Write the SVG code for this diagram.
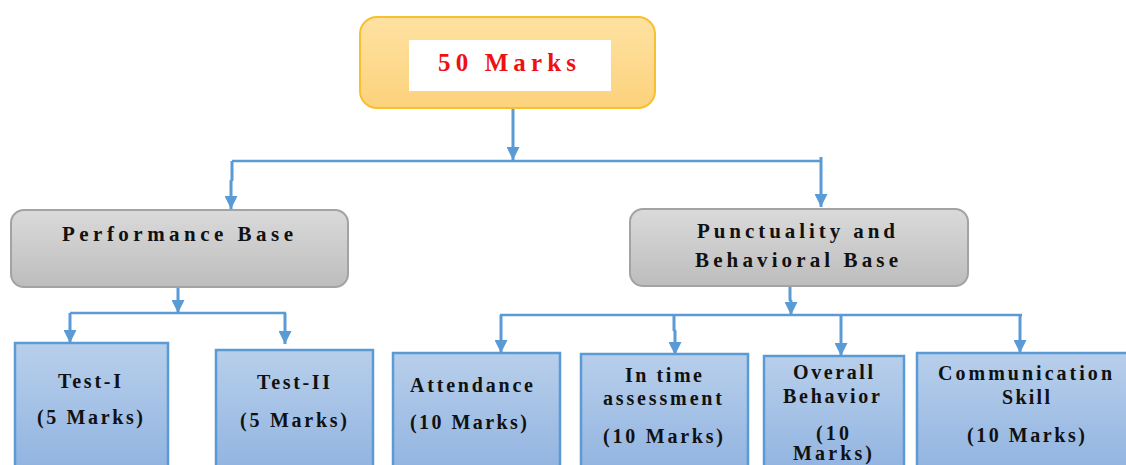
<svg xmlns="http://www.w3.org/2000/svg" width="1126" height="465" viewBox="0 0 1126 465">
<defs>
<linearGradient id="gOrange" x1="0" y1="0" x2="0" y2="1"><stop offset="0" stop-color="#fee2a2"/><stop offset="1" stop-color="#fcd27c"/></linearGradient>
<linearGradient id="gGray" x1="0" y1="0" x2="0" y2="1"><stop offset="0" stop-color="#dadada"/><stop offset="1" stop-color="#bdbdbd"/></linearGradient>
<linearGradient id="gBlue" x1="0" y1="0" x2="0" y2="1"><stop offset="0" stop-color="#b8cfeb"/><stop offset="1" stop-color="#90b3e0"/></linearGradient>
<marker id="arr" viewBox="0 0 10 10" refX="10" refY="5" markerWidth="13" markerHeight="13" markerUnits="userSpaceOnUse" orient="auto"><path d="M0,0 L10,5 L0,10 z" fill="#5b9bd5"/></marker>
<style>
.t{font-family:"Liberation Serif","Times New Roman",serif;font-weight:bold;fill:#111;text-anchor:start}
.l2{font-size:21px}
.l3{font-size:20px}
.top{font-size:25px;fill:#ee1111}
.gray{fill:url(#gGray);stroke:#a3a3a3;stroke-width:2}
.blue{fill:url(#gBlue);stroke:#5b9bd5;stroke-width:2.5}
.h{fill:none;stroke:#5b9bd5;stroke-width:2.5}
.a{fill:none;stroke:#5b9bd5;stroke-width:3;marker-end:url(#arr)}
</style>
</defs>
<g id="connectors">
<line class="a" x1="513" y1="108" x2="513" y2="160"/>
<line class="h" x1="232" y1="161" x2="821" y2="161"/>
<polyline class="a" points="232,161 232,180 231,181 231,209"/>
<line class="a" x1="821" y1="157" x2="821" y2="207"/>
<line class="a" x1="178" y1="287" x2="178" y2="313"/>
<line class="h" x1="70" y1="313" x2="286" y2="313"/>
<line class="a" x1="70" y1="313" x2="70" y2="343"/>
<line class="a" x1="285" y1="313" x2="285" y2="344"/>
<polyline class="a" points="790,286 790,300 791,301 791,315"/>
<line class="h" x1="500" y1="315" x2="1022" y2="315"/>
<line class="a" x1="501" y1="315" x2="501" y2="353"/>
<polyline class="a" points="674,315 674,330 675,331 675,355"/>
<line class="a" x1="841" y1="315" x2="841" y2="356"/>
<line class="a" x1="1020" y1="315" x2="1020" y2="353"/>
</g>
<g id="n-top">
<rect x="360" y="17" width="295" height="91" rx="17" fill="url(#gOrange)" stroke="#f8bf2f" stroke-width="2"/>
<rect x="409" y="40" width="202" height="51" fill="#ffffff"/>
<text class="t top" x="438" y="71" textLength="138" lengthAdjust="spacing">50 Marks</text>
</g>
<g id="n-performance">
<rect class="gray" x="11" y="210" width="337" height="77" rx="13"/>
<text class="t l2" x="62" y="241" textLength="231" lengthAdjust="spacing">Performance Base</text>
</g>
<g id="n-punctuality">
<rect class="gray" x="630" y="209" width="338" height="77" rx="13"/>
<text class="t l2" x="697" y="238" textLength="198" lengthAdjust="spacing">Punctuality and</text>
<text class="t l2" x="695" y="267" textLength="203" lengthAdjust="spacing">Behavioral Base</text>
</g>
<g id="n-test1">
<rect class="blue" x="15" y="343" width="153" height="130"/>
<text class="t l3" x="58" y="388" textLength="63" lengthAdjust="spacing">Test-I</text>
<text class="t l3" x="37" y="424" textLength="106" lengthAdjust="spacing">(5 Marks)</text>
</g>
<g id="n-test2">
<rect class="blue" x="216" y="350" width="157" height="125"/>
<text class="t l3" x="257" y="389" textLength="73" lengthAdjust="spacing">Test-II</text>
<text class="t l3" x="240" y="427" textLength="107" lengthAdjust="spacing">(5 Marks)</text>
</g>
<g id="n-attendance">
<rect class="blue" x="393" y="353" width="167" height="122"/>
<text class="t l3" x="410" y="392" textLength="123" lengthAdjust="spacing">Attendance</text>
<text class="t l3" x="410" y="429" textLength="117" lengthAdjust="spacing">(10 Marks)</text>
</g>
<g id="n-intime">
<rect class="blue" x="581" y="354" width="167" height="121"/>
<text class="t l3" x="625" y="382" textLength="77" lengthAdjust="spacing">In time</text>
<text class="t l3" x="603" y="405" textLength="119" lengthAdjust="spacing">assessment</text>
<text class="t l3" x="603" y="443" textLength="120" lengthAdjust="spacing">(10 Marks)</text>
</g>
<g id="n-overall">
<rect class="blue" x="764" y="356" width="140" height="119"/>
<text class="t l3" x="793" y="379" textLength="80" lengthAdjust="spacing">Overall</text>
<text class="t l3" x="783" y="403" textLength="97" lengthAdjust="spacing">Behavior</text>
<text class="t l3" x="816" y="440" textLength="33" lengthAdjust="spacing">(10</text>
<text class="t l3" x="793" y="460" textLength="79" lengthAdjust="spacing">Marks)</text>
</g>
<g id="n-communication">
<rect class="blue" x="917" y="353" width="215" height="122"/>
<text class="t l3" x="938" y="380" textLength="174" lengthAdjust="spacing">Communication</text>
<text class="t l3" x="1002" y="404" textLength="48" lengthAdjust="spacing">Skill</text>
<text class="t l3" x="967" y="442" textLength="118" lengthAdjust="spacing">(10 Marks)</text>
</g>
</svg>
